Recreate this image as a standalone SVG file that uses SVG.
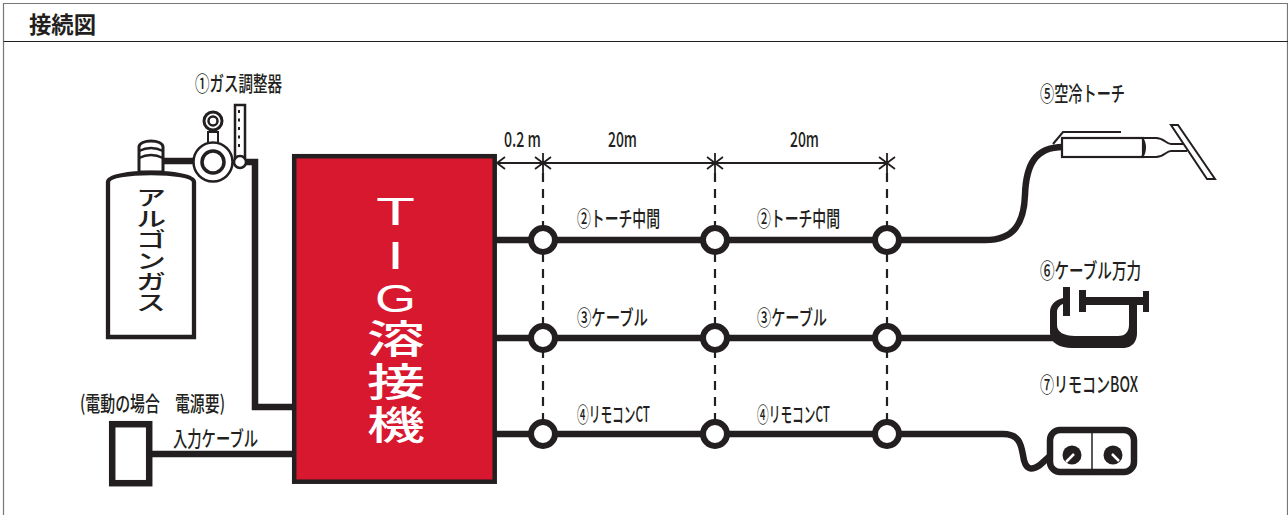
<svg xmlns="http://www.w3.org/2000/svg" width="1288" height="515" viewBox="0 0 1288 515">
<style>
text{font-family:"Noto Sans CJK JP","Liberation Sans",sans-serif;fill:#231f20;font-size:21px;font-weight:500}
.k{fill:none;stroke:#231f20;stroke-linejoin:miter}
.w{fill:#fff;stroke:#231f20}
.c6{fill:none;stroke:#231f20;stroke-width:6.500}
.d{fill:none;stroke:#231f20;stroke-width:2.200;stroke-dasharray:9 7}
.x{fill:none;stroke:#231f20;stroke-width:1.800}
.n{fill:#fff;stroke:#231f20;stroke-width:6}
text.big{font-family:"Liberation Sans","Noto Sans CJK JP",sans-serif;fill:#fff;font-size:39px;font-weight:400}
text.kj{font-family:"Noto Sans CJK JP",sans-serif;fill:#fff;font-size:39px;font-weight:500}
</style>
<defs>
<g id="xm"><path class="x" d="M-8,-6 L8,6 M-8,6 L8,-6 M0,-10 L0,10"/></g>
</defs>
<rect width="1288" height="515" fill="#fff"/>
<g id="frame">
<path d="M3.500,515 V3.500 H1287.500 V515" fill="none" stroke="#777" stroke-width="1.200"/>
<path d="M3.500,41.500 H1288" class="k" stroke-width="1.200"/>
<text x="29" y="33" style="font-size:23px;font-weight:700" textLength="67" lengthAdjust="spacingAndGlyphs">接続図</text>
</g>
<g id="connectors">
<path class="c6" d="M163,161 H195"/>
<path class="c6" d="M245,162 H255 V407 H293"/>
<path class="c6" d="M152,454 H293"/>
<path class="c6" d="M496,240 H985 C1015,240 1024,222 1025,195 C1026,165 1035,147 1063,147"/>
<path class="c6" d="M496,338 H1053"/>
<path class="c6" d="M496,434 H1003 C1019,434 1021,444 1023,455 C1025,470 1031,471 1040,465 L1050,456"/>
<path class="x" d="M497,163 H887"/>
<path class="x" d="M505,157 L497,163 L505,169"/>
<use href="#xm" x="543" y="163"/><use href="#xm" x="715" y="163"/><use href="#xm" x="887" y="163"/>
<path class="d" d="M543,173 V424"/><path class="d" d="M715,173 V424"/><path class="d" d="M887,173 V424"/>
<g id="junctions">
<circle class="n" cx="543" cy="240" r="12"/><circle class="n" cx="715" cy="240" r="12"/><circle class="n" cx="887" cy="240" r="12"/>
<circle class="n" cx="543" cy="338" r="12"/><circle class="n" cx="715" cy="338" r="12"/><circle class="n" cx="887" cy="338" r="12"/>
<circle class="n" cx="543" cy="434" r="12"/><circle class="n" cx="715" cy="434" r="12"/><circle class="n" cx="887" cy="434" r="12"/>
</g>
</g>
<g id="dim-labels">
<text x="504" y="147" textLength="37" lengthAdjust="spacingAndGlyphs">0.2 m</text>
<text x="608" y="147" textLength="29" lengthAdjust="spacingAndGlyphs">20m</text>
<text x="790" y="147" textLength="29" lengthAdjust="spacingAndGlyphs">20m</text>
<text x="577" y="226" textLength="83" lengthAdjust="spacingAndGlyphs">②トーチ中間</text>
<text x="757" y="226" textLength="83" lengthAdjust="spacingAndGlyphs">②トーチ中間</text>
<text x="577" y="325" textLength="71" lengthAdjust="spacingAndGlyphs">③ケーブル</text>
<text x="757" y="325" textLength="70" lengthAdjust="spacingAndGlyphs">③ケーブル</text>
<text x="577" y="422" textLength="73" lengthAdjust="spacingAndGlyphs">④リモコンCT</text>
<text x="757" y="422" textLength="73" lengthAdjust="spacingAndGlyphs">④リモコンCT</text>
</g>
<g id="cylinder">
<path class="w" stroke-width="3" d="M139,172 V147 C139,139 163,139 163,147 V172 Z"/>
<path class="k" stroke-width="2.500" d="M139,151 C147,147 155,147 163,151 M139,158 C147,154 155,154 163,158"/>
<path class="w" stroke-width="4.300" d="M108,337 V182 C108,170 194,170 194,182 V337 Z"/>
<text transform="translate(151,187) scale(1.050,0.72)" style="font-size:29px;writing-mode:vertical-rl" dominant-baseline="central">アルゴンガス</text>
</g>
<g id="regulator">
<text x="195" y="91" textLength="87" lengthAdjust="spacingAndGlyphs">①ガス調整器</text>
<rect class="w" stroke-width="2" x="208" y="132" width="10" height="12"/>
<circle class="w" stroke-width="3" cx="213" cy="121" r="9"/>
<circle class="w" stroke-width="2.500" cx="213" cy="121" r="4.500"/>
<circle class="w" stroke-width="2.500" cx="213" cy="162" r="19.500"/>
<circle class="w" stroke-width="3.500" cx="213" cy="162" r="11"/>
<rect class="w" stroke-width="2.500" x="235" y="105" width="10" height="52"/>
<path class="k" stroke-width="2" stroke-dasharray="3 5.500" d="M239,110 V152"/>
<circle class="w" stroke-width="2.500" cx="240" cy="162" r="6"/>
</g>
<g id="welder">
<rect x="294.200" y="156.200" width="200.500" height="325.500" fill="#d7182f" stroke="#231f20" stroke-width="4.500"/>
<text class="big" x="376" y="225" textLength="39" lengthAdjust="spacingAndGlyphs">T</text>
<text class="big" x="387" y="268.500" textLength="17" lengthAdjust="spacingAndGlyphs">I</text>
<text class="big" x="375" y="311.500" textLength="41" lengthAdjust="spacingAndGlyphs">G</text>
<text class="kj" x="367" y="353" textLength="58" lengthAdjust="spacingAndGlyphs">溶</text>
<text class="kj" x="367" y="396" textLength="58" lengthAdjust="spacingAndGlyphs">接</text>
<text class="kj" x="367" y="439" textLength="58" lengthAdjust="spacingAndGlyphs">機</text>
</g>
<g id="power">
<text x="80" y="411" textLength="145" lengthAdjust="spacingAndGlyphs">(電動の場合　電源要)</text>
<text x="173" y="446" textLength="85" lengthAdjust="spacingAndGlyphs">入力ケーブル</text>
<rect class="w" stroke-width="6.500" x="112.200" y="424.200" width="37" height="59"/>
</g>
<g id="torch">
<text x="1040" y="101" textLength="85" lengthAdjust="spacingAndGlyphs">⑤空冷トーチ</text>
<path class="k" stroke-width="2" d="M1053,144 L1063,132 H1121"/>
<rect class="w" stroke-width="2.200" x="1062" y="138" width="81" height="19"/>
<path class="k" stroke-width="2" d="M1142,138 C1146,143 1146,152 1142,157 M1143,138 H1156 C1164,138 1166,144 1171,144 H1184 M1143,157 H1156 C1164,157 1166,151 1171,151 H1187"/>
<path class="w" stroke-width="2" d="M1171,125 H1178 L1215,179 H1207 Z"/>
</g>
<g id="clamp">
<text x="1040" y="278" textLength="101" lengthAdjust="spacingAndGlyphs">⑥ケーブル万力</text>
<path fill="#231f20" d="M1063,298 C1054,300 1050,306 1050,312 L1050,333 C1050,343 1060,348 1072,348 H1122 C1134,348 1137,340 1137,333 V305 H1129 V325 C1129,333 1124,336 1118,336 H1075 C1064,336 1057,332 1057,325 V312 C1057,308 1060,305 1063,304 Z"/>
<path fill="#231f20" d="M1063,287 H1070 V316 H1063 Z M1079,290 H1086 V297 H1143 V291 H1149 V312 H1143 V305 H1086 V312 H1079 Z"/>
</g>
<g id="remote">
<text x="1040" y="392" textLength="98" lengthAdjust="spacingAndGlyphs">⑦リモコンBOX</text>
<rect class="w" stroke-width="6.500" x="1050" y="430" width="84" height="42" rx="10"/>
<path class="k" stroke-width="1.500" d="M1092,430 V475"/>
<circle cx="1072" cy="455" r="9.500" fill="#231f20"/><circle cx="1113" cy="455" r="9.500" fill="#231f20"/>
<path stroke="#fff" stroke-width="2.500" d="M1066,462 L1074,454 M1119,461 L1112,454"/>
</g>
</svg>
